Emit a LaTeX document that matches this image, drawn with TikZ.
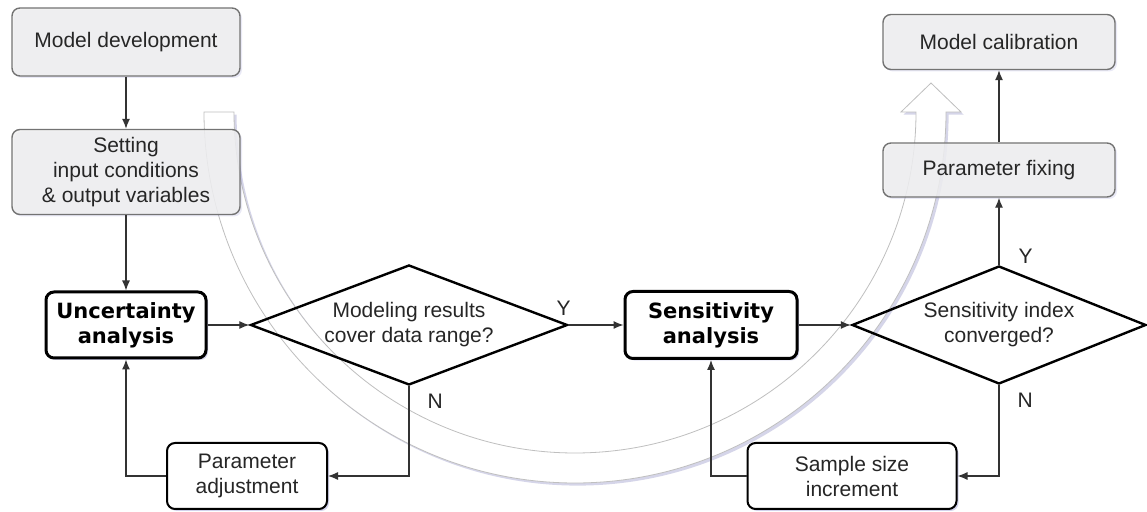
\documentclass[tikz,border=0pt]{standalone}
\usepackage{fontspec}
\setmainfont{Liberation Sans}
\newfontfamily\verdanafont{DejaVu Sans}
\usetikzlibrary{shapes,arrows.meta,positioning,shadows}
\tikzstyle{graybox} = [shape=rectangle, rounded corners=4pt,
		draw=black!55, line width=0.7pt,
		fill=black!6, fill opacity=0.85, text opacity=1,
		text=black!85, align=center, inner sep=0pt,
		font=\fontsize{10.5}{12.5}\selectfont,
		drop shadow={shadow xshift=1pt, shadow yshift=-1pt,
			fill=blue!40!gray, opacity=0.12}]
\tikzstyle{boldbox} = [shape=rectangle, rounded corners=4pt,
		draw=black, line width=1.5pt, fill=white,
		align=center, inner sep=0pt,
		font=\verdanafont\bfseries\fontsize{10.5}{12.5}\selectfont,
		drop shadow={shadow xshift=1pt, shadow yshift=-1pt,
			fill=blue!40!gray, opacity=0.25}]
\tikzstyle{thinbox} = [shape=rectangle, rounded corners=4pt,
		draw=black, line width=1pt, fill=white,
		text=black!85, align=center, inner sep=0pt,
		font=\fontsize{10.5}{12.5}\selectfont,
		drop shadow={shadow xshift=1pt, shadow yshift=-1pt,
			fill=blue!40!gray, opacity=0.25}]
\tikzstyle{decision} = [shape=diamond, draw=black, line width=1.2pt,
		text=black!85, align=center, inner sep=0pt,
		font=\fontsize{10.5}{12.5}\selectfont]
\tikzstyle{lbl} = [inner sep=0pt, text=black!85,
		font=\fontsize{10.5}{12.5}\selectfont]
\tikzstyle{flow} = [->, line width=0.6pt, draw=black!80]
\tikzstyle{bigarrow} = [fill=white, draw=black!25, line width=0.4pt,
		drop shadow={shadow xshift=1.3pt, shadow yshift=-1.3pt,
			fill=blue!30!gray, opacity=0.25}]

\begin{document}
\begin{tikzpicture}[x=0.5pt, y=0.5pt, >={Latex[length=5pt,width=4pt]}]
	\useasboundingbox (0,0) rectangle (1147,-512);

	% hollow arrow behind the loop
	\path[bigarrow] (204,-112) arc[start angle=180, end angle=360, radius=371]
		-- (961,-112) -- (931,-83) -- (901,-112) -- (916,-112)
		arc[start angle=360, end angle=180, radius=341] -- cycle;

	\node[graybox, minimum width=114pt, minimum height=34pt] (dev) at (126,-42) {Model development};
	\node[graybox, minimum width=114pt, minimum height=42.5pt] (set) at (126,-172) {Setting\\input conditions\\\& output variables};
	\node[boldbox, minimum width=80pt, minimum height=33pt] (ua) at (126,-325) {Uncertainty\\analysis};
	\node[decision, aspect=2.64, minimum width=158.5pt, minimum height=60pt] (d1) at (409,-325) {Modeling results\\cover data range?};
	\node[boldbox, minimum width=86pt, minimum height=33.5pt] (sa) at (711,-325) {Sensitivity\\analysis};
	\node[decision, aspect=2.49, minimum width=147pt, minimum height=59pt] (d2) at (999,-325) {Sensitivity index\\converged?};
	\node[graybox, minimum width=116pt, minimum height=27pt] (pf) at (999,-170) {Parameter fixing};
	\node[graybox, minimum width=116pt, minimum height=27.5pt] (mc) at (999,-42) {Model calibration};
	\node[thinbox, minimum width=80pt, minimum height=33pt] (pa) at (247,-476) {Parameter\\adjustment};
	\node[thinbox, minimum width=104.5pt, minimum height=33pt] (ss) at (852,-476) {Sample size\\increment};

	\draw[flow] (dev) -- (set);
	\draw[flow] (set) -- (ua);
	\draw[flow] (ua) -- (d1);
	\draw[flow] (d1.east) -- node[lbl, pos=0, above=4.5pt, xshift=-2.5pt] (y1) {Y} (sa.west);
	\draw[flow] (sa) -- (d2);
	\draw[flow] (d2.north) -- node[lbl, pos=0, above right=0.5pt and 9.5pt] (y2) {Y} (pf.south);
	\draw[flow] (pf) -- (mc);

	% loops back
	\draw[flow] (d1.south) |- node[lbl, pos=0, below right=3.5pt and 9pt] (n1) {N} (pa.east);
	\draw[flow] (pa.west) -| (ua.south);
	\draw[flow] (d2.south) |- node[lbl, pos=0, below right=3.5pt and 9pt] (n2) {N} (ss.east);
	\draw[flow] (ss.west) -| (sa.south);
\end{tikzpicture}
\end{document}
